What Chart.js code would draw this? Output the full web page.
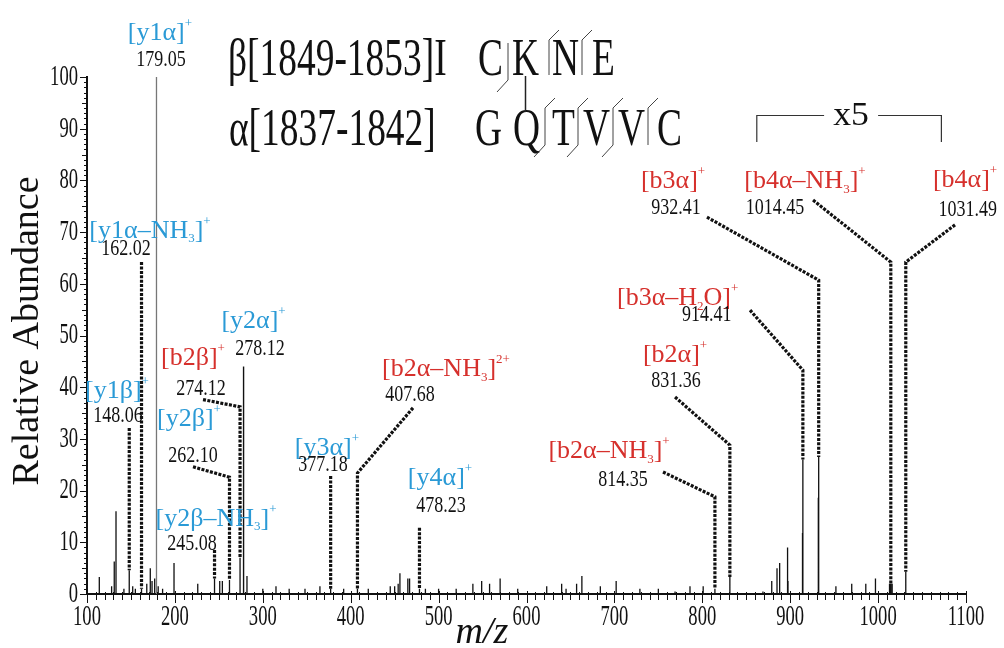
<!DOCTYPE html>
<html>
<head>
<meta charset="utf-8">
<script src="https://cdn.jsdelivr.net/npm/chart.js@4.4.1/dist/chart.umd.min.js"></script>
<style>
  html, body { margin: 0; padding: 0; background: #fff; }
  canvas { display: block; }
</style>
</head>
<body>
<canvas id="spectrum" width="1004" height="648"></canvas>
<script>
const BLUE = '#2a9ad6';
const RED = '#d6302c';
const SERIF = '"Liberation Serif", "Times New Roman", serif';

// annotated fragment ions (m/z, label, series, displayed height, solid lower part)
const ionMz = [179.05, 162.02, 148.06, 278.12, 274.12, 262.10, 245.08, 377.18,
  407.68, 478.23, 814.35, 831.36, 914.41, 932.41, 1014.45, 1031.49];
const ionName = ['[y1α]^{+}', '[y1α–NH_{3}]^{+}', '[y1β]^{+}', '[y2α]^{+}', '[b2β]^{+}',
  '[y2β]^{+}', '[y2β–NH_{3}]^{+}', '[y3α]^{+}', '[b2α–NH_{3}]^{2+}', '[y4α]^{+}',
  '[b2α–NH_{3}]^{+}', '[b2α]^{+}', '[b3α–H_{2}O]^{+}', '[b3α]^{+}', '[b4α–NH_{3}]^{+}', '[b4α]^{+}'];
const ionSeries = ['y', 'y', 'y', 'y', 'b', 'y', 'y', 'y', 'b', 'y', 'b', 'b', 'b', 'b', 'b', 'b'];
const ionTop = [100, 64.2, 32.1, 44, 36.2, 22.6, 8.5, 22.8, 23.4, 12.8, 18.8, 28.8, 43.3, 60.7, 64.2, 64.2];
const ionSolid = [100, 1, 4.6, 44, 7, 2.7, 3, 1, 1, 1, 1, 3.3, 26, 26.5, 2, 4.3];

// unannotated peaks
const peakMz = [100, 114, 128, 131, 133, 142, 152, 155, 168, 172, 174, 177, 181, 186, 199,
  226, 251, 254, 282, 300, 315, 330, 348, 365, 392, 420, 445, 450, 454, 456, 465, 467,
  485, 500, 520, 539, 549, 558, 570, 590, 623, 640, 645, 657, 663, 684, 702, 729, 750,
  769, 786, 801, 869, 879, 885, 888, 897, 897.5, 914, 932, 952, 970, 986, 997, 1013, 1016];
const peakHeight = [2.7, 3.3, 1.5, 6.3, 16, 1, 1.5, 1, 2, 5, 2.5, 3, 1.5, 1, 6,
  2, 2.5, 2.5, 3.5, 1, 1.5, 1, 1, 1.5, 1, 1, 1.5, 1.5, 2, 4, 3, 3,
  1, 1, 1, 2, 2.5, 2, 3, 1, 1.5, 2, 1, 2, 3.5, 1.5, 2.5, 1, 1,
  0.5, 1.5, 1.5, 0.5, 2.5, 5, 6, 9, 2.5, 11.8, 18.6, 1.5, 2, 2, 3, 2, 2];

const xTickLabels = [100, 200, 300, 400, 500, 600, 700, 800, 900, 1000, 1100];
const yTickLabels = [0, 10, 20, 30, 40, 50, 60, 70, 80, 90, 100];

// label placement in data units: name, value, optional leader start
const LABEL_LAYOUT = [
  { nx: 183, ny: 107.2, vx: 184.2, vy: 102.1 },
  { nx: 171.7, ny: 68.9, vx: 144.4, vy: 65.6 },
  { nx: 134.1, ny: 37.9, vx: 135.3, vy: 33.2 },
  { nx: 289.5, ny: 51.5, vx: 296.8, vy: 46.2 },
  { nx: 220.6, ny: 44.3, vx: 229.7, vy: 38.5, lx: 232, ly: 37.6 },
  { nx: 216, ny: 32.5, vx: 220.6, vy: 25.6, lx: 220.6, ly: 24.6 },
  { nx: 246.8, ny: 13.2, vx: 219.5, vy: 8.6 },
  { nx: 373, ny: 26.9, vx: 368.5, vy: 23.8 },
  { nx: 508.4, ny: 42.2, vx: 467.5, vy: 37.4, lx: 470.9, ly: 36 },
  { nx: 501.6, ny: 21.1, vx: 502.7, vy: 15.9 },
  { nx: 693.9, ny: 26.3, vx: 709.8, vy: 20.9, lx: 755.3, ly: 23.6 },
  { nx: 769, ny: 44.9, vx: 770, vy: 40, lx: 769, ly: 38.1 },
  { nx: 772, ny: 55.9, vx: 805, vy: 52.8, lx: 854.3, ly: 54.9 },
  { nx: 766.7, ny: 78.5, vx: 770, vy: 73.5, lx: 805.3, ly: 72.9 },
  { nx: 916.8, ny: 78.5, vx: 882.7, vy: 73.5, lx: 926, ly: 76.2 },
  { nx: 1098.9, ny: 78.7, vx: 1102, vy: 73.1, lx: 1087.5, ly: 71.4 }
];
const X5_RANGE = [862, 1072];

function stems(xs, hs) {
  const pts = [];
  xs.forEach((x, i) => {
    pts.push({ x: x, y: 0 }, { x: x, y: hs[i] }, { x: x, y: null });
  });
  return pts;
}

const grayIdx = [0];
const blackIdx = [3];
const dashedIdx = ionMz.map((_, i) => i).filter(i => grayIdx.indexOf(i) < 0 && blackIdx.indexOf(i) < 0);

const dashedPts = [];
dashedIdx.forEach(i => {
  const L = LABEL_LAYOUT[i];
  if (L.lx !== undefined) dashedPts.push({ x: L.lx, y: L.ly });
  dashedPts.push({ x: ionMz[i], y: ionTop[i] }, { x: ionMz[i], y: ionSolid[i] }, { x: ionMz[i], y: null });
});

const datasets = [
  {
    data: stems(peakMz, peakHeight).concat(stems(dashedIdx.map(i => ionMz[i]), dashedIdx.map(i => ionSolid[i]))),
    borderColor: '#111', borderWidth: 1.3
  },
  {
    data: stems(grayIdx.map(i => ionMz[i]), grayIdx.map(i => ionTop[i])),
    borderColor: '#777', borderWidth: 1.3
  },
  {
    data: stems(blackIdx.map(i => ionMz[i]), blackIdx.map(i => ionTop[i])),
    borderColor: '#111', borderWidth: 1.4
  },
  {
    data: dashedPts,
    borderColor: '#111', borderWidth: 3.2, borderDash: [3, 1.4]
  }
];

function parseRich(str) {
  const parts = [];
  const re = /([_^])\{([^}]*)\}/g;
  let last = 0, m;
  while ((m = re.exec(str))) {
    if (m.index > last) parts.push({ t: str.slice(last, m.index), k: '' });
    parts.push({ t: m[2], k: m[1] });
    last = re.lastIndex;
  }
  if (last < str.length) parts.push({ t: str.slice(last), k: '' });
  return parts;
}

function drawRich(ctx, str, cx, baseline, size, color) {
  const parts = parseRich(str);
  const small = Math.round(size * 0.5);
  let w = 0;
  parts.forEach(p => {
    ctx.font = (p.k ? small : size) + 'px ' + SERIF;
    p.w = ctx.measureText(p.t).width;
    w += p.w;
  });
  let x = cx - w / 2;
  ctx.fillStyle = color;
  ctx.textAlign = 'left';
  ctx.textBaseline = 'alphabetic';
  parts.forEach(p => {
    ctx.font = (p.k ? small : size) + 'px ' + SERIF;
    const dy = p.k === '_' ? size * 0.18 : p.k === '^' ? -size * 0.5 : 0;
    ctx.fillText(p.t, x, baseline + dy);
    x += p.w;
  });
}

function drawText(ctx, text, x, y, font, sx, align, baseline, color) {
  ctx.save();
  ctx.translate(x, y);
  ctx.scale(sx, 1);
  ctx.font = font;
  ctx.fillStyle = color || '#111';
  ctx.textAlign = align;
  ctx.textBaseline = baseline || 'alphabetic';
  ctx.fillText(text, 0, 0);
  ctx.restore();
}

const decorations = {
  id: 'decorations',
  afterDraw(chart) {
    const ctx = chart.ctx;
    const xs = chart.scales.x, ys = chart.scales.y;
    const area = chart.chartArea;
    ctx.save();
    ctx.strokeStyle = '#111';
    ctx.lineWidth = 1;

    // y ticks
    for (let v = 0; v <= 100; v += 1) {
      const py = Math.round(ys.getPixelForValue(v)) + 0.5;
      const len = v % 10 === 0 ? 7 : v % 5 === 0 ? 5 : 3;
      ctx.beginPath();
      ctx.moveTo(area.left - len, py);
      ctx.lineTo(area.left, py);
      ctx.stroke();
    }
    yTickLabels.forEach(v => {
      drawText(ctx, String(v), area.left - 9, ys.getPixelForValue(v), '30px ' + SERIF, 0.62, 'right', 'middle');
    });

    // x ticks
    for (let v = 100; v <= 1100; v += 10) {
      const px = Math.round(xs.getPixelForValue(v)) + 0.5;
      const major = v % 100 === 0;
      ctx.beginPath();
      ctx.moveTo(px, area.bottom - (major ? 3 : 2));
      ctx.lineTo(px, area.bottom + (major ? 9 : 6));
      ctx.stroke();
    }
    xTickLabels.forEach(v => {
      drawText(ctx, String(v), xs.getPixelForValue(v), area.bottom + 31, '30px ' + SERIF, 0.62, 'center');
    });

    // axis titles
    ctx.save();
    ctx.translate(38, 331);
    ctx.rotate(-Math.PI / 2);
    ctx.font = '38px ' + SERIF;
    ctx.fillStyle = '#111';
    ctx.textAlign = 'center';
    ctx.textBaseline = 'alphabetic';
    ctx.fillText('Relative Abundance', 0, 0);
    ctx.restore();
    drawText(ctx, 'm/z', 482, 643, 'italic 38px ' + SERIF, 1, 'center');

    // ion labels
    ionMz.forEach((mz, i) => {
      const L = LABEL_LAYOUT[i];
      const color = ionSeries[i] === 'y' ? BLUE : RED;
      drawRich(ctx, ionName[i], xs.getPixelForValue(L.nx), ys.getPixelForValue(L.ny), 26, color);
      drawText(ctx, mz.toFixed(2), xs.getPixelForValue(L.vx), ys.getPixelForValue(L.vy), '24px ' + SERIF, 0.75, 'center');
    });

    // x5 bracket
    const bx0 = xs.getPixelForValue(X5_RANGE[0]);
    const bx1 = xs.getPixelForValue(X5_RANGE[1]);
    const bmid = (bx0 + bx1) / 2;
    ctx.strokeStyle = '#333';
    ctx.lineWidth = 1.2;
    ctx.beginPath();
    ctx.moveTo(bx0, 142); ctx.lineTo(bx0, 115.5); ctx.lineTo(bmid - 25, 115.5);
    ctx.moveTo(bmid + 29, 115.5); ctx.lineTo(bx1, 115.5); ctx.lineTo(bx1, 142);
    ctx.stroke();
    drawText(ctx, 'x5', bmid + 2, 125, '34px ' + SERIF, 1.05, 'center');

    // crosslinked sequence
    const seqFont = '52px ' + SERIF;
    drawText(ctx, 'β[1849-1853]I', 228, 75, seqFont, 0.72, 'left');
    [['C', 478], ['K', 512], ['N', 552], ['E', 592]].forEach(a => drawText(ctx, a[0], a[1], 75, seqFont, 0.72, 'left'));
    drawText(ctx, 'α[1837-1842]', 229, 145, seqFont, 0.72, 'left');
    [['G', 475], ['Q', 513], ['T', 552], ['V', 583], ['V', 618], ['C', 657]].forEach(a => drawText(ctx, a[0], a[1], 145, seqFont, 0.72, 'left'));

    ctx.strokeStyle = '#444';
    ctx.lineWidth = 1;
    const cut = (x, top, bot, upHook, downHook) => {
      ctx.beginPath();
      if (upHook) { ctx.moveTo(x + 10, top - 10); ctx.lineTo(x, top); } else { ctx.moveTo(x, top); }
      ctx.lineTo(x, bot);
      if (downHook) ctx.lineTo(x - 11, bot + 12);
      ctx.stroke();
    };
    cut(508, 43, 80, false, true);
    cut(549, 40, 75, true, false);
    cut(582, 40, 75, true, false);
    cut(545, 108, 145, true, true);
    cut(578, 108, 145, true, true);
    cut(613, 108, 145, true, true);
    cut(648, 108, 145, true, false);
    ctx.strokeStyle = '#222';
    ctx.lineWidth = 1.5;
    ctx.beginPath();
    ctx.moveTo(525.5, 76); ctx.lineTo(525.5, 112);
    ctx.stroke();

    ctx.restore();
  }
};

new Chart(document.getElementById('spectrum'), {
  type: 'line',
  data: { datasets: datasets },
  options: {
    responsive: false,
    devicePixelRatio: 1,
    animation: false,
    parsing: true,
    spanGaps: false,
    layout: { padding: { left: 87, right: 38, top: 77, bottom: 54 } },
    elements: {
      point: { radius: 0, hoverRadius: 0 },
      line: { tension: 0, fill: false, borderCapStyle: 'butt' }
    },
    plugins: { legend: { display: false }, tooltip: { enabled: false } },
    scales: {
      x: {
        type: 'linear', min: 100, max: 1100,
        grid: { display: false, drawTicks: false },
        ticks: { display: false },
        border: { display: true, color: '#111', width: 2 }
      },
      y: {
        type: 'linear', min: 0, max: 100,
        grid: { display: false, drawTicks: false },
        ticks: { display: false },
        border: { display: true, color: '#111', width: 2 }
      }
    }
  },
  plugins: [decorations]
});
</script>
</body>
</html>
